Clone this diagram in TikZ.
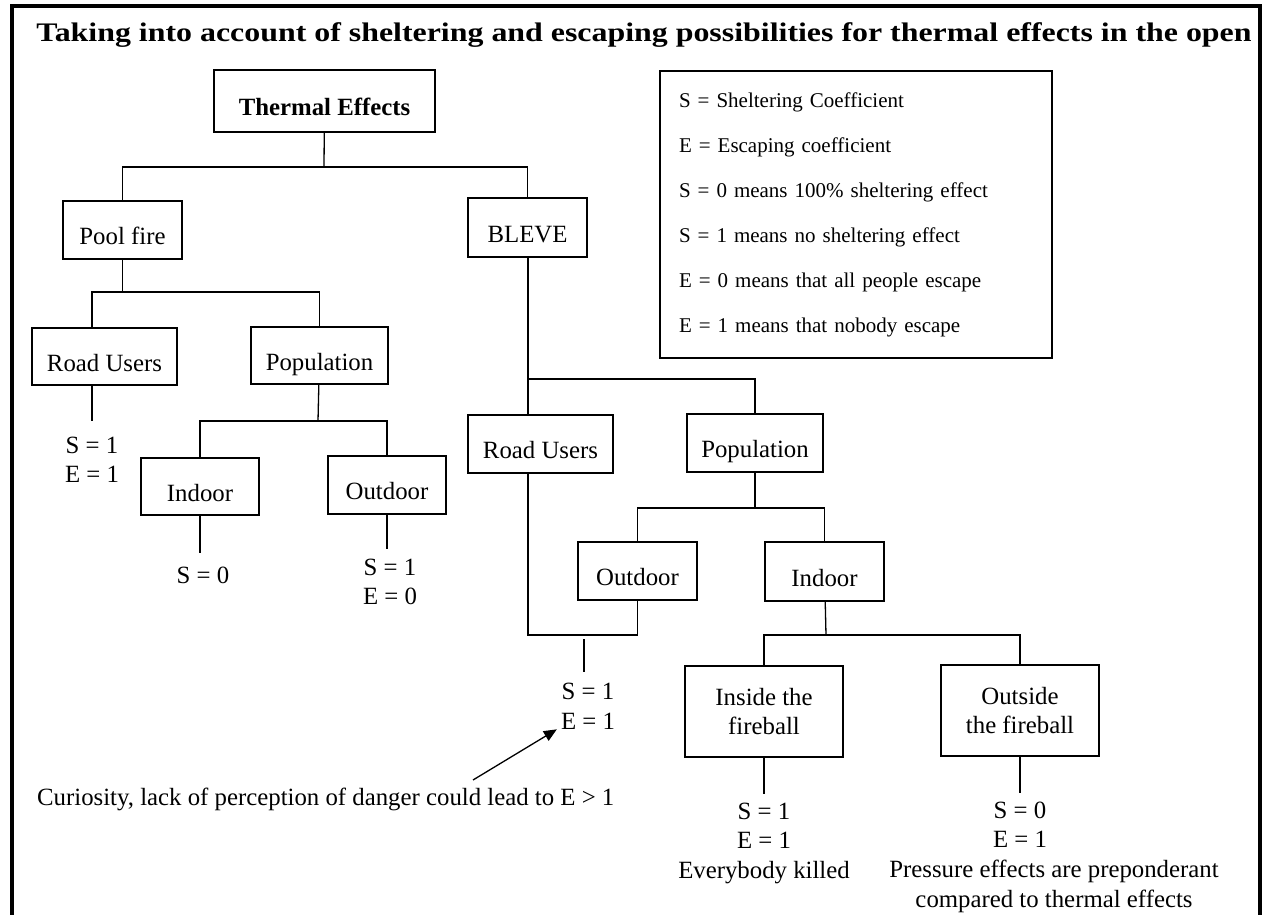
\documentclass[tikz,border=0pt]{standalone}
\usepackage{fontspec}
\setmainfont{Liberation Serif}
\newfontfamily\titlefam{Liberation Serif}[FakeStretch=1.19]
\newcommand{\treefont}{\fontsize{24.8}{29.5}\selectfont}
\usepackage{tikz}
\usetikzlibrary{arrows.meta}

\begin{document}
\begin{tikzpicture}[x=1pt, y=-1pt,
    link/.style={line width=1.3pt},
    box/.style={draw, line width=1.3pt, inner sep=0pt, minimum width=119pt, minimum height=58pt,
      font=\treefont, text height=29pt, text depth=0pt},
    twobox/.style={draw, line width=1.3pt, inner sep=0pt, minimum width=158pt, minimum height=91pt,
      font=\treefont, align=center},
    leaf/.style={inner sep=0pt, anchor=north, align=center, font=\treefont}]
    \useasboundingbox (0,0) rectangle (1263,915);
    \draw[line width=4pt] (11.5,915) -- (11.5,6.5) -- (1259.5,6.5) -- (1259.5,915);
    \node[anchor=base, inner sep=0pt, font=\titlefam\bfseries\fontsize{26.8}{32}\selectfont] (Title) at (644,42)
      {Taking into account of sheltering and escaping possibilities for thermal effects in the open};

    \node[box, minimum width=221pt, minimum height=62pt, font=\treefont\bfseries] (Thermal) at (324.5,101) {Thermal Effects};
    \node[box] (PoolFire) at (122.5,230) {Pool fire};
    \node[box, minimum height=59pt] (Bleve) at (527.5,227.5) {BLEVE};
    \node[box, minimum width=145pt, minimum height=57pt] (RoadL) at (104.5,356.5) {Road Users};
    \node[box, minimum width=137pt, minimum height=57pt] (PopL) at (319.5,355.5) {Population};
    \node[box, minimum width=118pt, minimum height=57pt] (IndoorL) at (200,486.5) {Indoor};
    \node[box, minimum width=118pt] (OutdoorL) at (387,485) {Outdoor};
    \node[box, minimum width=145pt] (RoadR) at (540.5,444) {Road Users};
    \node[box, minimum width=136pt] (PopR) at (755,443) {Population};
    \node[box] (OutdoorR) at (637.5,571) {Outdoor};
    \node[box, minimum height=59pt] (IndoorR) at (824.5,571.5) {Indoor};
    \node[twobox] (Inside) at (764,711.5) {Inside the\\fireball};
    \node[twobox] (Outside) at (1020,710.5) {Outside\\the fireball};

    \node[draw, line width=1.3pt, minimum width=392pt, minimum height=287pt, text width=354pt,
      inner xsep=19pt, inner ysep=0pt, align=left, font=\fontsize{21}{45}\selectfont] (Legend) at (856,214.5)
      {S = Sheltering Coefficient\\E = Escaping coefficient\\S = 0 means 100\% sheltering effect\\
       S = 1 means no sheltering effect\\E = 0 means that all people escape\\E = 1 means that nobody escape};

    \coordinate (jTop) at (324,167);
    \draw[link] (Thermal) -- (jTop);
    \draw[link] (PoolFire) |- (Bleve |- jTop) -- (Bleve);

    \coordinate (jPool) at (122.5,292);
    \coordinate (bRoadL) at (92,292);
    \draw[link] (PoolFire) -- (jPool);
    \draw[link] (bRoadL |- RoadL.north) -- (bRoadL) -| (PopL);
    \draw[link] (bRoadL |- RoadL.south) -- ++(0,35) coordinate (eRoadL);
    \node[leaf, yshift=-16pt] (sRoadL) at (eRoadL) {S = 1\\E = 1};

    \coordinate (jPopL) at (318,421);
    \draw[link] (PopL) -- (jPopL);
    \draw[link] (IndoorL) |- (OutdoorL |- jPopL) -- (OutdoorL);
    \draw[link] (IndoorL.south) -- ++(0,37) coordinate (eIndoorL);
    \node[leaf, yshift=-14pt, xshift=3pt] (sIndoorL) at (eIndoorL) {S = 0};
    \draw[link] (OutdoorL.south) -- ++(0,34) coordinate (eOutdoorL);
    \node[leaf, yshift=-10pt, xshift=3pt] (sOutdoorL) at (eOutdoorL) {S = 1\\E = 0};

    \coordinate (jBleve) at (528,379);
    \draw[link] (jBleve |- Bleve.south) -- (jBleve |- RoadR.north);
    \draw[link] (jBleve) -| (PopR);

    \coordinate (jJoin) at (528,635);
    \draw[link] (jJoin |- RoadR.south) -- (jJoin) -| (OutdoorR);
    \coordinate (sJoin) at (584,639);
    \draw[link] (sJoin) -- ++(0,33) coordinate (eJoin);
    \node[leaf, yshift=-11pt, xshift=4pt] (sRoadR) at (eJoin) {S = 1\\E = 1};

    \coordinate (jPopR) at (755,508);
    \draw[link] (PopR) -- (jPopR);
    \draw[link] (OutdoorR) |- (IndoorR |- jPopR) -- (IndoorR);

    \coordinate (jIndR) at (826,635);
    \draw[link] (IndoorR) -- (jIndR);
    \draw[link] (Inside) |- (Outside |- jIndR) -- (Outside);
    \draw[link] (Inside.south) -- ++(0,36) coordinate (eInside);
    \node[leaf, yshift=-9pt] (sInside) at (eInside) {S = 1\\E = 1\\Everybody killed};
    \draw[link] (Outside.south) -- ++(0,36) coordinate (eOutside);
    \node[leaf, yshift=-9pt] (sOutside) at (eOutside) {S = 0\\E = 1};
    \node[leaf, xshift=34pt, yshift=-12pt] (nOutside) at (sOutside.south)
      {Pressure effects are preponderant\\compared to thermal effects};

    \node[anchor=base west, inner sep=0pt, font=\treefont] (Curio) at (37,805)
      {Curiosity, lack of perception of danger could lead to E > 1};
    \coordinate (cTail) at (473,780);
    \draw[link, -{Triangle[length=13pt, width=11pt]}] (cTail) -- ([xshift=-4pt]sRoadR.south west);
  \end{tikzpicture}
\end{document}
